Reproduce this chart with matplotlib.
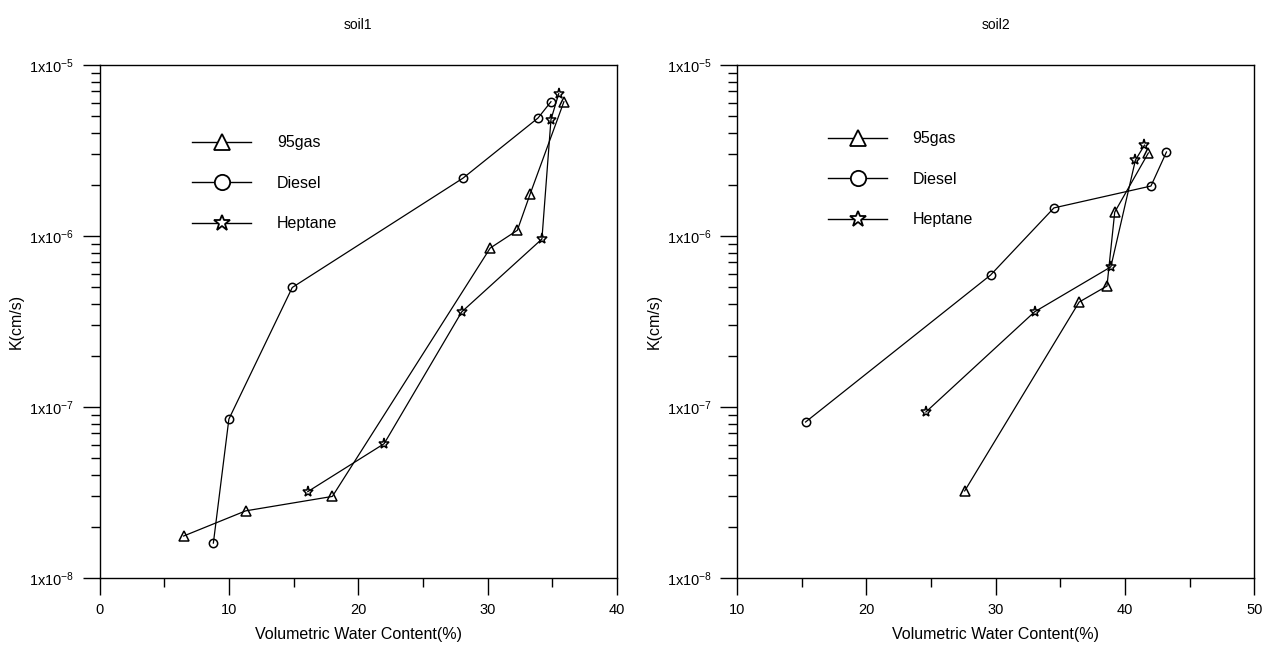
#!/usr/bin/env python3
"""
Hydraulic conductivity vs volumetric water content for two soils
"""

import matplotlib
matplotlib.use('Agg')
import matplotlib.pyplot as plt
from matplotlib.lines import Line2D
from matplotlib.ticker import MultipleLocator, LogLocator, NullFormatter, FuncFormatter
import numpy as np

plt.rcParams['font.family'] = ['Liberation Sans', 'DejaVu Sans']
plt.rcParams['mathtext.fontset'] = 'custom'
plt.rcParams['mathtext.rm'] = 'Liberation Sans'
plt.rcParams['mathtext.it'] = 'Liberation Sans:italic'

# soil1
soil1_gas_x = [6.5, 11.3, 18.0, 30.2, 32.3, 33.3, 35.9]
soil1_gas_k = [1.76e-8, 2.47e-8, 3.0e-8, 8.5e-7, 1.08e-6, 1.77e-6, 6.1e-6]
soil1_diesel_x = [8.8, 10.0, 14.9, 28.1, 33.9, 34.9]
soil1_diesel_k = [1.6e-8, 8.5e-8, 5.0e-7, 2.18e-6, 4.9e-6, 6.1e-6]
soil1_hept_x = [16.1, 22.0, 28.0, 34.2, 34.9, 35.5]
soil1_hept_k = [3.2e-8, 6.1e-8, 3.6e-7, 9.6e-7, 4.8e-6, 6.8e-6]

# soil2
soil2_gas_x = [27.6, 36.45, 38.6, 39.2, 41.8]
soil2_gas_k = [3.23e-8, 4.11e-7, 5.1e-7, 1.38e-6, 3.06e-6]
soil2_diesel_x = [15.3, 29.6, 34.5, 42.0, 43.2]
soil2_diesel_k = [8.17e-8, 5.91e-7, 1.46e-6, 1.96e-6, 3.1e-6]
soil2_hept_x = [24.6, 33.0, 38.9, 40.8, 41.5]
soil2_hept_k = [9.35e-8, 3.6e-7, 6.6e-7, 2.78e-6, 3.4e-6]

LABELS = ['95gas', 'Diesel', 'Heptane']
MARKERS = ['^', 'o', '*']
PLOT_MS = [6.5, 6, 8]
LEG_MS = [11, 11, 12]


def log_label(v, pos):
    e = int(round(np.log10(v)))
    return '1x10$^{%d}$' % e


def setup_axes(ax, title, xlim, leg_anchor):
    ax.set_yscale('log')
    ax.set_ylim(1e-8, 1e-5)
    ax.set_xlim(*xlim)
    ax.xaxis.set_major_locator(MultipleLocator(10))
    ax.xaxis.set_minor_locator(MultipleLocator(5))
    ax.yaxis.set_major_locator(LogLocator(base=10))
    ax.yaxis.set_minor_locator(LogLocator(base=10, subs=np.arange(2, 10)))
    ax.yaxis.set_major_formatter(FuncFormatter(log_label))
    ax.yaxis.set_minor_formatter(NullFormatter())
    ax.tick_params(which='major', direction='out', length=12, width=1,
                   labelsize=10.5, pad=6)
    ax.tick_params(which='minor', direction='out', length=6.5, width=1)
    ax.tick_params(top=False, right=False, which='both')
    for s in ax.spines.values():
        s.set_linewidth(1)
    ax.set_xlabel('Volumetric Water Content(%)', fontsize=11.5, labelpad=7)
    ax.set_ylabel('K(cm/s)', fontsize=11.5, labelpad=4)
    ax.set_title(title, fontsize=10, pad=26)

    handles = [Line2D([], [], color='k', lw=1, marker=m, ms=s,
                      mfc='white', mec='k', mew=1.3)
               for m, s in zip(MARKERS, LEG_MS)]
    ax.legend(handles, LABELS, loc='upper left', bbox_to_anchor=leg_anchor,
              frameon=False, fontsize=11.5, handlelength=3.7,
              handletextpad=1.6, labelspacing=1.6, borderpad=0,
              borderaxespad=0)


fig = plt.figure(figsize=(12.76, 6.54), dpi=100)
ax1 = fig.add_axes([0.078, 0.1162, 0.4055, 0.7844])
ax2 = fig.add_axes([0.5776, 0.1162, 0.4055, 0.7844])

series1 = [(soil1_gas_x, soil1_gas_k), (soil1_diesel_x, soil1_diesel_k),
           (soil1_hept_x, soil1_hept_k)]
series2 = [(soil2_gas_x, soil2_gas_k), (soil2_diesel_x, soil2_diesel_k),
           (soil2_hept_x, soil2_hept_k)]

for ax, series in [(ax1, series1), (ax2, series2)]:
    for (x, k), m, s in zip(series, MARKERS, PLOT_MS):
        ax.plot(x, k, color='k', lw=0.9, marker=m, ms=s,
                mfc='none', mec='k', mew=1.1)

setup_axes(ax1, 'soil1', (0, 40), (0.179, 0.863))
setup_axes(ax2, 'soil2', (10, 50), (0.176, 0.871))

plt.savefig('out.png', dpi=100)
